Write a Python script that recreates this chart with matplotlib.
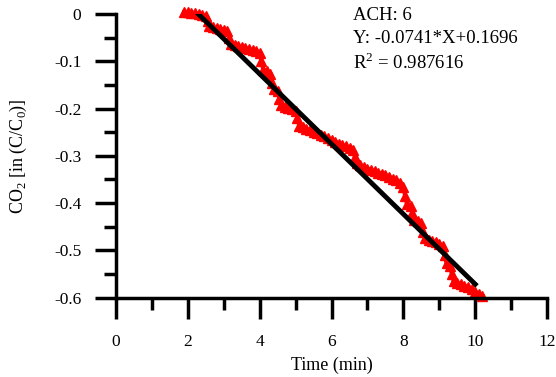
import matplotlib
matplotlib.use("Agg")
import matplotlib.pyplot as plt
from matplotlib.ticker import MultipleLocator

plt.rcParams['font.family'] = ['Liberation Serif', 'DejaVu Serif']
plt.rcParams['mathtext.fontset'] = 'custom'
plt.rcParams['mathtext.rm'] = 'Liberation Serif'

time = [1.9, 2.0, 2.1, 2.2, 2.3, 2.4, 2.5, 2.55, 2.6, 2.7, 2.8, 2.9, 3.0, 3.1, 3.15,
        3.2, 3.3, 3.4, 3.5, 3.6, 3.7, 3.8, 3.9, 4.0, 4.05, 4.1, 4.2, 4.3, 4.35, 4.4,
        4.5, 4.55, 4.6, 4.7, 4.8, 4.9, 5.0, 5.05, 5.1, 5.2, 5.3, 5.4, 5.5, 5.6, 5.7,
        5.8, 5.9, 6.0, 6.1, 6.2, 6.3, 6.4, 6.5, 6.6, 6.65, 6.7, 6.8, 6.9, 7.0, 7.1,
        7.2, 7.3, 7.4, 7.5, 7.6, 7.7, 7.8, 7.9, 8.0, 8.05, 8.1, 8.2, 8.25, 8.3, 8.4,
        8.5, 8.55, 8.6, 8.7, 8.8, 8.9, 9.0, 9.1, 9.15, 9.2, 9.3, 9.35, 9.4, 9.5, 9.6,
        9.7, 9.8, 9.9, 10.0, 10.1, 10.2]
co2 = [0.004, 0.004, 0.003, 0.002, 0.0, -0.002, -0.004, -0.015, -0.026, -0.028,
       -0.030, -0.031, -0.033, -0.036, -0.050, -0.064, -0.066, -0.068, -0.070, -0.072,
       -0.074, -0.076, -0.078, -0.082, -0.100, -0.118, -0.121, -0.126, -0.145, -0.158,
       -0.162, -0.180, -0.193, -0.196, -0.199, -0.202, -0.206, -0.220, -0.236, -0.240,
       -0.243, -0.246, -0.249, -0.252, -0.255, -0.258, -0.262, -0.266, -0.270, -0.274,
       -0.277, -0.280, -0.283, -0.288, -0.302, -0.316, -0.320, -0.324, -0.327, -0.330,
       -0.333, -0.336, -0.338, -0.341, -0.344, -0.348, -0.352, -0.357, -0.365, -0.385,
       -0.402, -0.406, -0.420, -0.435, -0.438, -0.443, -0.460, -0.474, -0.477, -0.480,
       -0.483, -0.486, -0.490, -0.510, -0.527, -0.533, -0.550, -0.565, -0.568, -0.572,
       -0.575, -0.578, -0.582, -0.588, -0.592, -0.596]

# linear fit shown on the chart
ach = 6
slope = -0.0741
intercept = 0.1696
r2 = 0.987616
fit_range = [2.3, 10.0]

fig = plt.figure(figsize=(5.56, 3.77), dpi=100)
ax = fig.add_axes([0.2086, 0.2103, 0.7754, 0.7527])

ax.plot(time, co2, color='red', lw=3, marker='^', ms=7, mec='red', zorder=2, clip_on=False)
fit_y = [slope * x + intercept for x in fit_range]
ax.plot(fit_range, fit_y, color='black', lw=3.5, zorder=3)

ax.set_xlim(0, 12)
ax.set_ylim(-0.6, 0)
ax.xaxis.set_major_locator(MultipleLocator(2))
ax.xaxis.set_minor_locator(MultipleLocator(1))
ax.yaxis.set_minor_locator(MultipleLocator(0.05))
ax.set_yticks([0, -0.1, -0.2, -0.3, -0.4, -0.5, -0.6])
ax.set_yticklabels(['0', '-0.1', '-0.2', '-0.3', '-0.4', '-0.5', '-0.6'])

for s in ['top', 'right']:
    ax.spines[s].set_visible(False)
for s in ['left', 'bottom']:
    ax.spines[s].set_linewidth(2.5)

ax.tick_params(axis='both', which='major', direction='out', length=15, width=2.5, labelsize=12.5)
ax.tick_params(axis='both', which='minor', direction='out', length=8.5, width=2.5)
ax.tick_params(axis='x', which='major', pad=11)
ax.tick_params(axis='y', which='major', pad=10)

ax.set_xlabel('Time (min)', fontsize=13, labelpad=5)
ax.set_ylabel('CO$_2$ [in (C/C$_0$)]', fontsize=13, labelpad=18)

ax.text(0.55, 0.993, f'ACH: {ach}', transform=ax.transAxes, fontsize=13.5, va='center', ha='left')
ax.text(0.55, 0.912, f'Y: {slope}*X+{intercept}', transform=ax.transAxes, fontsize=13.5, va='center', ha='left')
ax.text(0.55, 0.827, f'R$^2$ = {r2}', transform=ax.transAxes, fontsize=13.5, va='center', ha='left')

fig.savefig('out.png', dpi=100)
